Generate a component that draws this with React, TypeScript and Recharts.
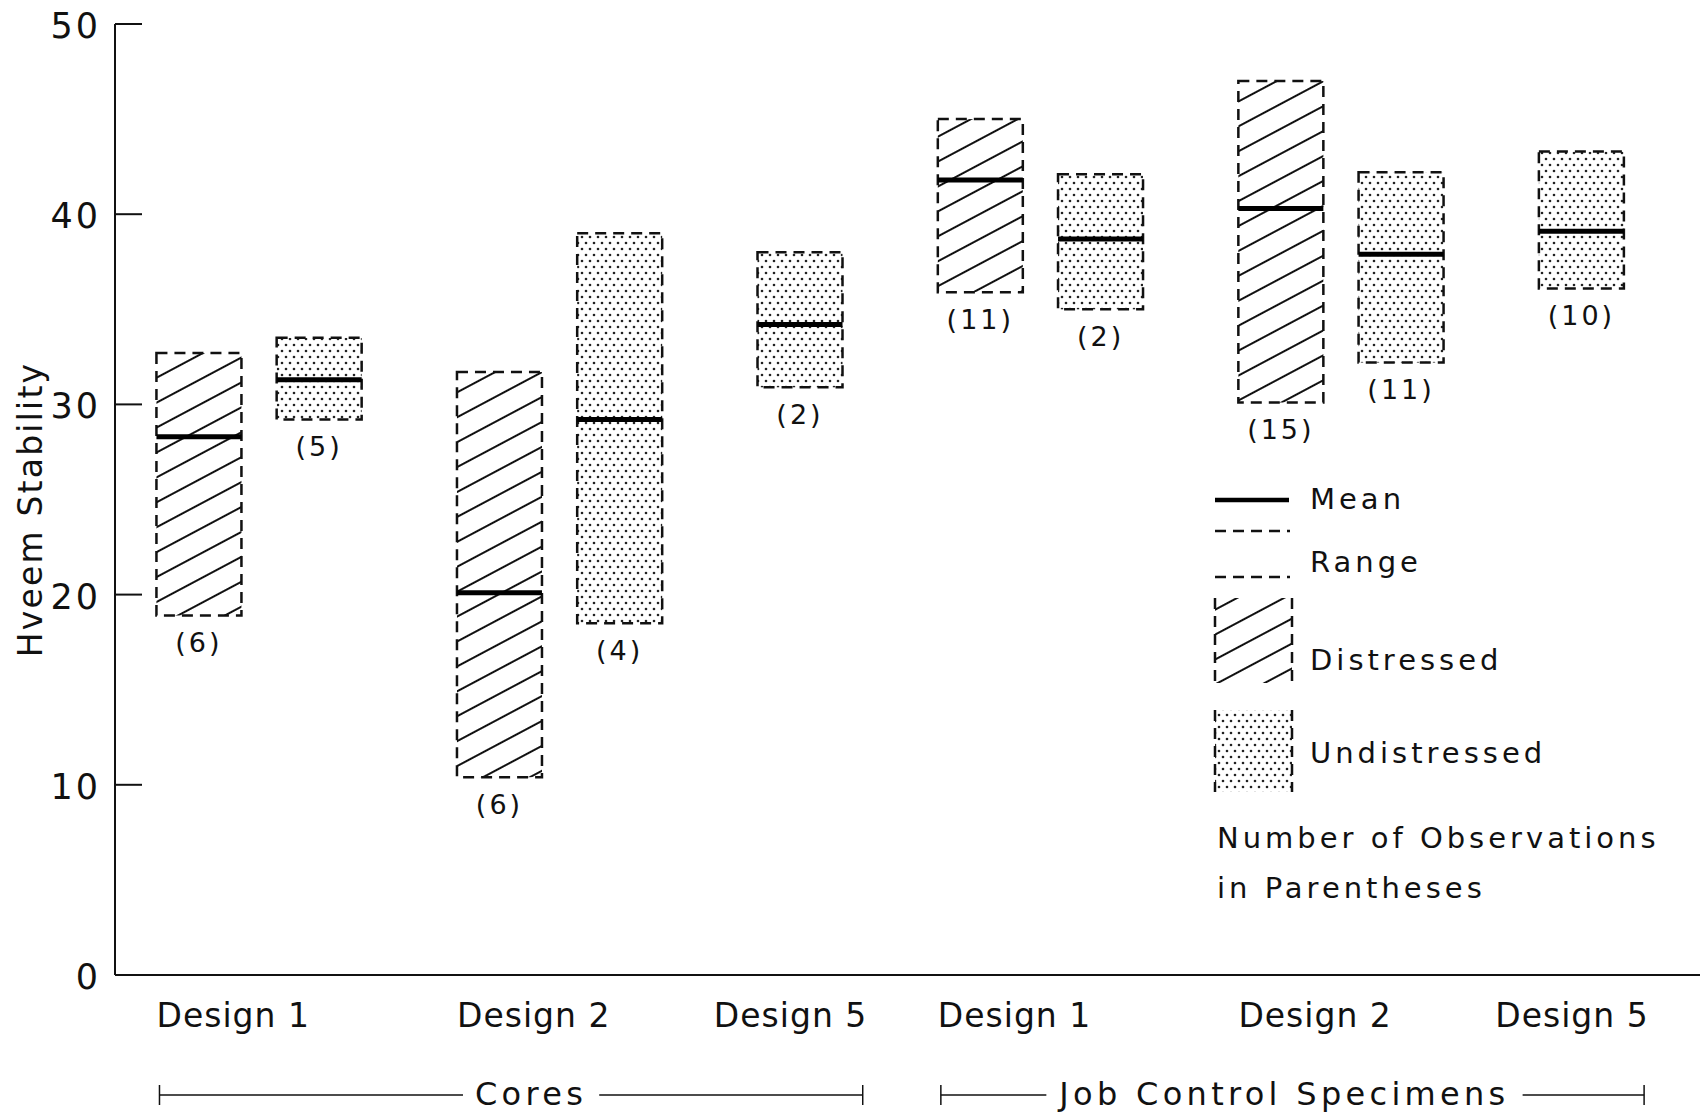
import React, { useLayoutEffect, useRef, useState } from "react";
import { Bar, ComposedChart, LabelList, Legend, XAxis, YAxis } from "recharts";

// six design groups, left to right
const designLabels = ["Design 1", "Design 2", "Design 5", "Design 1", "Design 2", "Design 5"];
const specimenSets = ["Cores", "Job Control Specimens"];
const groupSet = [0, 0, 0, 1, 1, 1];

// Hveem stability, distressed sections (null = not tested)
const distressedLow = [18.9, 10.4, null, 35.9, 30.1, null];
const distressedHigh = [32.7, 31.7, null, 45.0, 47.0, null];
const distressedMean = [28.3, 20.1, null, 41.8, 40.3, null];
const distressedCount = [6, 6, null, 11, 15, null];

// undistressed sections
const undistressedLow = [29.2, 18.5, 30.9, 35.0, 32.2, 36.1];
const undistressedHigh = [33.5, 39.0, 38.0, 42.1, 42.2, 43.3];
const undistressedMean = [31.3, 29.2, 34.2, 38.7, 37.9, 39.1];
const undistressedCount = [5, 4, 2, 2, 11, 10];

const yTicks = [0, 10, 20, 30, 40, 50];
const legendLabels = ["Mean", "Range", "Distressed", "Undistressed"];
const legendNote = ["Number of Observations", "in Parentheses"];

const FONT = "DejaVu Sans";
const INK = "#111";
const W = 1700;
const H = 1113;
const M = { top: 24, right: 0, bottom: 137, left: 114 };
const X_DOMAIN: [number, number] = [-1.39, 24.98];
const BOX_STEP = 2; // slots between the two boxes of a design
const GROUP_STEP = 3; // slots between designs
const HALF_BOX = 0.7; // box half width, in slots

type Box = { slot: number; range: [number, number]; low: number; high: number; mean: number; n: number; kind: string; group: number };

const boxes: Box[] = [];
const groupSlots: number[][] = [];
{
  let cursor = 0;
  designLabels.forEach((_, g) => {
    const slots: number[] = [];
    const add = (low: number | null, high: number | null, mean: number | null, n: number | null, kind: string) => {
      if (low == null || high == null || mean == null || n == null) return;
      if (slots.length) cursor += BOX_STEP;
      slots.push(cursor);
      boxes.push({ slot: cursor, range: [low, high], low, high, mean, n, kind, group: g });
    };
    add(distressedLow[g], distressedHigh[g], distressedMean[g], distressedCount[g], "distressed");
    add(undistressedLow[g], undistressedHigh[g], undistressedMean[g], undistressedCount[g], "undistressed");
    groupSlots.push(slots);
    cursor += GROUP_STEP;
  });
}

// design label anchors: pairs start at the left box edge, singles sit about centred
const labelTicks = groupSlots.map((s) => (s.length > 1 ? s[0] - HALF_BOX : s[0] - 0.15));

const BoxShape = (props: any) => {
  const { x, y, width, height } = props;
  const p: Box = props.payload ?? props;
  const top = Math.min(y, y + height);
  const h = Math.abs(height);
  const meanY = top + ((p.high - p.mean) / (p.high - p.low)) * h;
  return (
    <g>
      <rect
        x={x}
        y={top}
        width={width}
        height={h}
        fill={p.kind === "distressed" ? "url(#hatch)" : "url(#dots)"}
        stroke={INK}
        strokeWidth={2.5}
        strokeDasharray="11 7"
      />
      <line x1={x} x2={x + width} y1={meanY} y2={meanY} stroke="#000" strokeWidth={5} />
    </g>
  );
};

const CountLabel = (props: any) => {
  const { x, y, width, height, value } = props;
  const bottom = Math.max(y, y + height);
  return (
    <text x={x + width / 2} y={bottom + 27} textAnchor="middle" dominantBaseline="central" fontFamily={FONT} fontSize={27} letterSpacing={3} fill={INK}>
      ({value})
    </text>
  );
};

const YTick = (props: any) => {
  const { x, y, payload } = props;
  return (
    <g>
      {payload.value !== 0 && <line x1={x} x2={x + 27} y1={y} y2={y} stroke={INK} strokeWidth={2} />}
      <text x={x - 14} y={y + 2} textAnchor="end" dominantBaseline="central" fontFamily={FONT} fontSize={35} letterSpacing={3} fill={INK}>
        {payload.value}
      </text>
    </g>
  );
};

const XTick = (props: any) => {
  const { x, y, payload } = props;
  const g = labelTicks.findIndex((t) => Math.abs(t - payload.value) < 1e-6);
  if (g < 0) return null;
  const pair = groupSlots[g].length > 1;
  return (
    <text x={x} y={y + 52} textAnchor={pair ? "start" : "middle"} fontFamily={FONT} fontSize={33} letterSpacing={1} fill={INK}>
      {designLabels[g]}
    </text>
  );
};

const YLabel = (props: any) => {
  const vb = props.viewBox;
  const cx = vb.x + vb.width - 85;
  const cy = vb.y + vb.height / 2 + 10;
  return (
    <text x={cx} y={cy} transform={`rotate(-90 ${cx} ${cy})`} textAnchor="middle" dominantBaseline="central" fontFamily={FONT} fontSize={33} letterSpacing={2.2} fill={INK}>
      Hveem Stability
    </text>
  );
};

const LegendPanel = () => {
  const t = { fontFamily: FONT, fontSize: 29, letterSpacing: 4, fill: INK } as const;
  return (
    <svg width={490} height={440} style={{ overflow: "visible" }}>
      <line x1={10} x2={84} y1={22} y2={22} stroke="#000" strokeWidth={4.5} />
      <text x={105} y={31} {...t}>{legendLabels[0]}</text>
      <line x1={10} x2={85} y1={53} y2={53} stroke={INK} strokeWidth={2.5} strokeDasharray="11 7" />
      <line x1={10} x2={85} y1={99} y2={99} stroke={INK} strokeWidth={2.5} strokeDasharray="11 7" />
      <text x={105} y={94} {...t}>{legendLabels[1]}</text>
      <rect x={10} y={120} width={77} height={85} fill="url(#hatch)" />
      <line x1={10} x2={10} y1={120} y2={205} stroke={INK} strokeWidth={2.5} strokeDasharray="11 7" />
      <line x1={87} x2={87} y1={120} y2={205} stroke={INK} strokeWidth={2.5} strokeDasharray="11 7" />
      <text x={105} y={192} {...t}>{legendLabels[2]}</text>
      <rect x={10} y={232} width={77} height={82} fill="url(#dots)" />
      <line x1={10} x2={10} y1={232} y2={314} stroke={INK} strokeWidth={2.5} strokeDasharray="11 7" />
      <line x1={87} x2={87} y1={232} y2={314} stroke={INK} strokeWidth={2.5} strokeDasharray="11 7" />
      <text x={105} y={285} {...t}>{legendLabels[3]}</text>
      <text x={12} y={370} {...t}>{legendNote[0]}</text>
      <text x={12} y={420} {...t}>{legendNote[1]}</text>
    </svg>
  );
};

// bracket annotations under the axis, mapped with the same x domain as the chart
const plotLeft = M.left + 1;
const plotW = W - plotLeft - M.right;
const xPx = (s: number) => plotLeft + ((s - X_DOMAIN[0]) / (X_DOMAIN[1] - X_DOMAIN[0])) * plotW;
const bracketTextShift = [20, -8];

const Brackets = () => {
  const y = 1095;
  const refs = useRef<(SVGTextElement | null)[]>([]);
  const [widths, setWidths] = useState<number[]>(specimenSets.map(() => 0));
  useLayoutEffect(() => {
    setWidths(refs.current.map((t) => (t ? t.getBBox().width : 0)));
  }, []);
  return (
    <svg width={W} height={H} style={{ position: "absolute", left: 0, top: 0, pointerEvents: "none" }}>
      {specimenSets.map((name, k) => {
        const slots = groupSlots.filter((_, g) => groupSet[g] === k).flat();
        const x1 = xPx(Math.min(...slots) - 0.65);
        const x2 = xPx(Math.max(...slots) + 1.05);
        const tx = (x1 + x2) / 2 + bracketTextShift[k];
        const gap = widths[k] ? widths[k] / 2 + 12 : 0;
        return (
          <g key={name}>
            <line x1={x1} x2={tx - gap} y1={y} y2={y} stroke={INK} strokeWidth={1.5} />
            <line x1={tx + gap} x2={x2} y1={y} y2={y} stroke={INK} strokeWidth={1.5} />
            <line x1={x1} x2={x1} y1={y - 10} y2={y + 10} stroke={INK} strokeWidth={1.5} />
            <line x1={x2} x2={x2} y1={y - 10} y2={y + 10} stroke={INK} strokeWidth={1.5} />
            <text
              ref={(el) => {
                refs.current[k] = el;
              }}
              x={tx}
              y={y + 10}
              textAnchor="middle"
              fontFamily={FONT}
              fontSize={32}
              letterSpacing={4.3}
              fill={INK}
            >
              {name}
            </text>
          </g>
        );
      })}
    </svg>
  );
};

export default function App() {
  return (
    <div style={{ position: "absolute", left: 0, top: 0, width: W, height: H, background: "#fff" }}>
      <ComposedChart width={W} height={H} data={boxes} margin={M}>
        <defs>
          <pattern id="hatch" patternUnits="userSpaceOnUse" width={12} height={22} patternTransform="rotate(-28)">
            <rect width={12} height={22} fill="#fff" />
            <line x1={0} y1={11} x2={12} y2={11} stroke={INK} strokeWidth={2} />
          </pattern>
          <pattern id="dots" patternUnits="userSpaceOnUse" width={8} height={12}>
            <rect width={8} height={12} fill="#fff" />
            <circle cx={2} cy={3} r={1.3} fill="#222" />
            <circle cx={6} cy={9} r={1.3} fill="#222" />
          </pattern>
        </defs>
        <XAxis
          dataKey="slot"
          type="number"
          domain={X_DOMAIN}
          allowDataOverflow
          ticks={labelTicks}
          interval={0}
          height={1}
          tickSize={0}
          tickMargin={0}
          tickLine={false}
          axisLine={{ stroke: INK, strokeWidth: 2 }}
          tick={<XTick />}
        />
        <YAxis
          type="number"
          domain={[0, 50]}
          ticks={yTicks}
          interval={0}
          width={1}
          tickSize={0}
          tickMargin={0}
          tickLine={false}
          axisLine={{ stroke: INK, strokeWidth: 2 }}
          tick={<YTick />}
          label={<YLabel />}
        />
        <Legend
          layout="vertical"
          align="center"
          verticalAlign="middle"
          content={() => <LegendPanel />}
          wrapperStyle={{ left: 1205, top: 478, width: 490, height: 440 }}
        />
        <Bar dataKey="range" barSize={85} shape={<BoxShape />} isAnimationActive={false}>
          <LabelList dataKey="n" content={<CountLabel />} />
        </Bar>
      </ComposedChart>
      <Brackets />
    </div>
  );
}
